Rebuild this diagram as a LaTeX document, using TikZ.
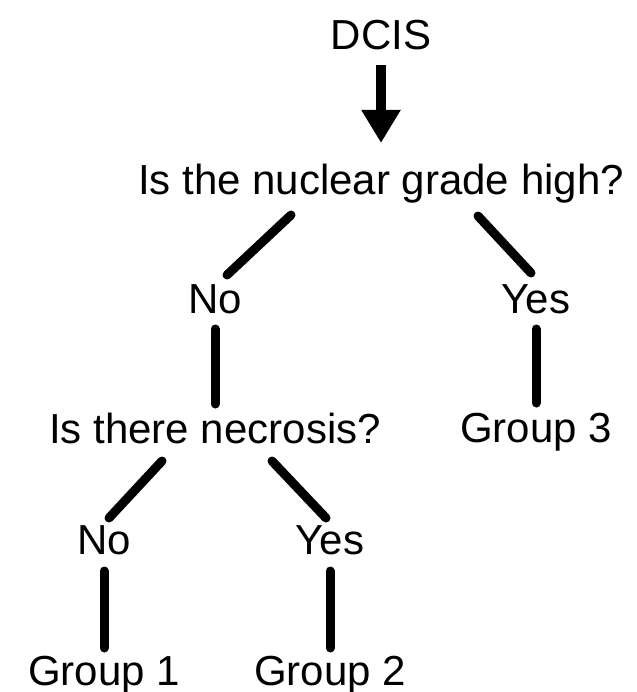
\documentclass[tikz,border=0pt]{standalone}
\usepackage{fontspec}
\setmainfont{Liberation Sans}
\usetikzlibrary{arrows.meta}
\tikzstyle{every node}=[font=\fontsize{42}{50}\selectfont,inner sep=0pt,anchor=base]
\tikzstyle{link}=[line width=9pt,line cap=round]
\tikzstyle{bigarrow}=[line width=10pt,line cap=butt,-{Triangle[length=33pt,width=37pt]}]
\begin{document}
\begin{tikzpicture}[x=1pt,y=-1pt]
\useasboundingbox (0,0) rectangle (636,692);

\node (dcis) at (381,50) {DCIS};
\node (q1) at (381,195) {Is the nuclear grade high?};
\node (no1) at (215,313) {No};
\node (yes1) at (536,313) {Yes};
\node (q2) at (215,443) {Is there necrosis?};
\node (group3) at (536,442) {Group 3};
\node (no2) at (104,554) {No};
\node (yes2) at (330,554) {Yes};
\node (group1) at (104,685) {Group 1};
\node (group2) at (330,685) {Group 2};

\draw [bigarrow]([yshift=-15pt]dcis.base) -- ([yshift=52pt]q1.base);

\draw [link]([shift={(-90pt,-20pt)}]q1.base) -- ([shift={(12pt,38pt)}]no1.base);
\draw [link]([shift={(97pt,-21pt)}]q1.base) -- ([shift={(-5pt,40pt)}]yes1.base);
\draw [link]([yshift=-16pt]no1.base) -- ([yshift=39pt]q2.base);
\draw [link]([yshift=-16pt]yes1.base) -- ([yshift=39pt]group3.base);

\draw [link]([shift={(-53pt,-18pt)}]q2.base) -- ([shift={(5pt,36pt)}]no2.base);
\draw [link]([shift={(57pt,-18pt)}]q2.base) -- ([shift={(-4pt,36pt)}]yes2.base);
\draw [link]([yshift=-17pt]no2.base) -- ([yshift=37pt]group1.base);
\draw [link]([yshift=-17pt]yes2.base) -- ([yshift=37pt]group2.base);
\end{tikzpicture}
\end{document}
